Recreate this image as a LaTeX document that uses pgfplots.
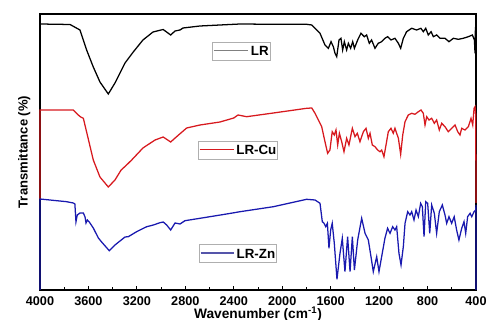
\documentclass[border=0pt]{standalone}
\usepackage{fontspec}
\setmainfont{Liberation Sans}
\usepackage{pgfplots}
\pgfplotsset{compat=1.18}
\definecolor{cred}{RGB}{215,25,30}
\definecolor{cblue}{RGB}{25,25,175}
\definecolor{lgray}{RGB}{175,175,175}
\definecolor{lzn}{RGB}{85,85,170}
\begin{document}
\begin{tikzpicture}
\begin{axis}[
 at={(0,0)}, anchor=south west,
 scale only axis, width=327pt, height=207pt,
 xmin=400, xmax=4000, ymin=0, ymax=276,
 x dir=reverse,
 xtick={400,800,...,4000},
 minor x tick num=1,
 ytick=\empty,
 xtick pos=left,
 tick align=inside,
 major tick length=3pt, minor tick length=2pt,
 tick style={black, line width=0.6pt},
 axis line style={line width=0.8pt},
 clip=false,
 /pgf/number format/assume math mode=true,
 /pgf/number format/1000 sep={},
 xticklabel style={font=\bfseries\fontsize{9.5}{10}\selectfont, yshift=-1.2pt},
 xlabel={Wavenumber (cm\textsuperscript{-1})},
 xlabel style={font=\bfseries\fontsize{10.3}{12}\selectfont, at={(axis description cs:0.5,-0.061)}, anchor=north, inner sep=0pt},
 ylabel={Transmittance (\%)},
 ylabel style={font=\bfseries\fontsize{9.8}{12}\selectfont, at={(axis description cs:-0.0214,0.5)}, anchor=south, inner sep=0pt},
]
% LR
\addplot[black, line width=0.95pt] coordinates {
(4000,266) (3752,265.5) (3670,260) (3615,240) (3560,223) (3505,208) (3436,196) (3381,207) (3298,227) (3230,238) (3150,250) (3067,258) (2983,260.5) (2921,255) (2885,259) (2844,260) (2819,262) (2679,264) (2348,266) (2073,265.7) (1798,265.7) (1756,265) (1729,261.7) (1688,256.7) (1647,245) (1619,241.7) (1597,248.3) (1578,243.3) (1564,236.7) (1550,233.3) (1531,250) (1515,251.7) (1501,240) (1487,248.3) (1468,240) (1454,246.7) (1435,241.7) (1418,248.3) (1404,241.7) (1377,250) (1350,256.7) (1322,253.3) (1303,255) (1281,246.7) (1262,250) (1234,241.7) (1207,246.7) (1179,248.3) (1152,251.7) (1130,253.3) (1102,250) (1069,251.7) (1041,246.7) (1022,241.7) (1000,251.7) (973,258.3) (931,261.7) (890,260) (855,261.7) (835,258.3) (815,261.7) (794,255) (771,258.3) (752,253.3) (725,255) (697,251.7) (656,251.7) (623,248.3) (587,251.7) (546,250.7) (505,251.7) (463,253.3) (430,255) (413,250) (408,236.7) (405,260) (403,263) (402,240) (401,258) (400,256.7)
};
% LR-Cu
\addplot[cred, line width=0.95pt] coordinates {
(4000,91) (4000,180) (3725,180) (3684,175) (3664,173) (3642,171.7) (3560,130) (3505,113) (3436,103) (3381,110) (3330,120) (3285,125) (3243,130) (3150,142) (3050,150) (2983,153) (2921,148) (2875,153) (2789,162) (2679,165) (2514,168) (2400,172) (2365,175) (2293,173.3) (2073,177) (1798,181.7) (1756,182) (1729,176.7) (1674,163.3) (1647,148.3) (1625,136.7) (1606,140) (1587,158.3) (1570,155) (1556,160) (1542,145) (1528,156.7) (1509,148.3) (1490,138.3) (1468,151.7) (1449,145) (1421,161.7) (1399,153.3) (1380,156.7) (1358,148.3) (1330,158.3) (1308,161.7) (1289,151.7) (1275,156.7) (1256,145) (1234,143.3) (1212,140) (1193,138.3) (1179,140) (1160,133.3) (1143,145) (1124,158.3) (1102,161.7) (1083,156.7) (1069,161.7) (1041,151.7) (1022,135.7) (1005,155) (986,168.3) (959,175) (931,176.7) (904,175.7) (876,178.3) (854,180) (835,176.7) (821,165) (807,173.3) (788,170) (766,171.7) (744,166.7) (725,170) (703,160) (683,166.7) (656,163.3) (629,158.3) (601,161.7) (573,165) (551,158.3) (532,155) (518,161.7) (491,160) (463,163.3) (441,171.7) (427,165) (416,181.7) (408,183.3) (402,175) (400,87)
};
% LR-Zn
\addplot[cblue, line width=0.95pt] coordinates {
(4000,0) (4000,91) (3780,88.3) (3725,87) (3712,86) (3703,68.3) (3692,75) (3670,77) (3642,77) (3628,73) (3620,67) (3609,70) (3593,68) (3560,62) (3518,52) (3491,48) (3428,39.3) (3381,45) (3298,53) (3271,53.3) (3202,58.3) (3119,63.3) (3064,65) (3009,67.3) (2982,68) (2954,65) (2921,60) (2885,67) (2844,66) (2803,69.3) (2679,71.7) (2459,76) (2348,78.3) (2073,83.3) (1798,90.7) (1729,90) (1688,86.7) (1669,68.3) (1655,66.7) (1641,63.3) (1627,66.7) (1614,41.7) (1600,60) (1587,66.7) (1570,46.7) (1548,10.7) (1523,36.7) (1504,51.7) (1482,18.3) (1460,53.3) (1440,18.3) (1421,53.3) (1404,20) (1377,50) (1344,71.7) (1316,56.7) (1289,50) (1267,33.3) (1248,18.3) (1220,33.3) (1201,18.3) (1179,33.3) (1152,51.7) (1130,61.7) (1110,56.7) (1088,63.3) (1069,60) (1055,63.3) (1036,36.7) (1019,25) (1000,43.3) (986,66.7) (964,78.3) (945,75) (931,78.3) (912,70) (895,80) (876,73.3) (857,86.7) (843,83.3) (829,53.3) (815,88.3) (799,86.7) (782,56.7) (766,85) (744,76.7) (725,56.7) (703,78.3) (678,85) (656,75) (642,66.7) (623,73.3) (601,66.7) (580,73.3) (560,60) (541,50) (518,61.7) (499,68.3) (485,56.7) (469,73.3) (449,76.7) (435,73.3) (416,78.3) (402,80) (400,85) (400,0)
};
\node[draw=lgray, line width=0.5pt, anchor=west, inner xsep=1pt, inner ysep=0pt, minimum height=13.5pt, font=\bfseries\fontsize{10}{12}\selectfont] at (axis cs:2580,239) {\textcolor{gray}{\rule[3.1pt]{26pt}{1.1pt}}\hspace{2pt}LR\hspace{2pt}};
\node[draw=lgray, line width=0.5pt, anchor=west, inner xsep=1pt, inner ysep=0pt, minimum height=13.5pt, font=\bfseries\fontsize{10}{12}\selectfont] at (axis cs:2695,140) {\textcolor{cred}{\rule[3.1pt]{25.5pt}{1.1pt}}\hspace{2pt}LR-Cu\hspace{2pt}};
\node[draw=lgray, line width=0.5pt, anchor=west, inner xsep=1pt, inner ysep=0pt, minimum height=13.5pt, font=\bfseries\fontsize{10}{12}\selectfont] at (axis cs:2687,36.5) {\textcolor{lzn}{\rule[3.1pt]{25pt}{1.1pt}}\hspace{2pt}LR-Zn\hspace{3pt}};
\end{axis}
\pgfresetboundingbox
\path (-30pt,-22.5pt) rectangle (336pt,217.5pt);
\end{tikzpicture}
\end{document}
